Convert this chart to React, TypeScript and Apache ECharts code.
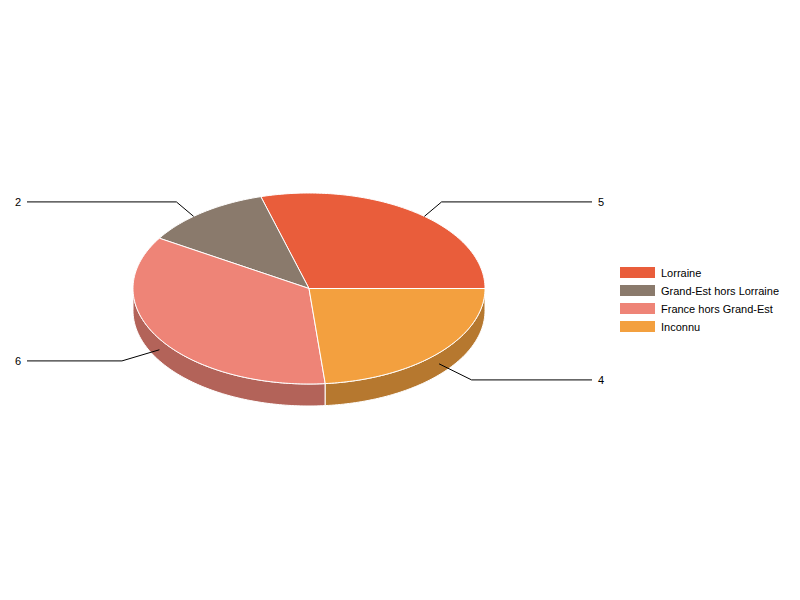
import React, { useEffect, useRef } from "react";
import * as echarts from "echarts";

const categories = ["Lorraine", "Grand-Est hors Lorraine", "France hors Grand-Est", "Inconnu"];
const values = [5, 2, 6, 4];
const colors = ["#E95D3B", "#8A7A6C", "#EE8477", "#F3A03F"];

// layout of the 3D pie
const CX = 309;
const CY = 288.5;
const RX = 176;
const RY = 95.5;
const DEPTH = 22;
const FONT = "Liberation Sans";

function darken(hex: string, k: number) {
  const n = parseInt(hex.slice(1), 16);
  const r = Math.round(((n >> 16) & 255) * k);
  const g = Math.round(((n >> 8) & 255) * k);
  const b = Math.round((n & 255) * k);
  return "rgb(" + r + "," + g + "," + b + ")";
}

function pt(t: number, dy = 0): number[] {
  return [CX + RX * Math.cos(t), CY - RY * Math.sin(t) + dy];
}

function arc(a: number, b: number, dy = 0): number[][] {
  const pts: number[][] = [];
  const n = Math.max(2, Math.ceil(((b - a) * 180) / Math.PI));
  for (let i = 0; i <= n; i++) pts.push(pt(a + ((b - a) * i) / n, dy));
  return pts;
}

const renderItem = (params: any, api: any) => {
  const start = api.value(0);
  const val = api.value(1);
  const total = api.value(2);
  const color = api.visual("color");
  const a0 = (start / total) * Math.PI * 2;
  const a1 = ((start + val) / total) * Math.PI * 2;
  const children: any[] = [];

  // front side wall
  const s = Math.max(a0, Math.PI);
  const e = Math.min(a1, Math.PI * 2);
  if (e > s) {
    const top = arc(s, e);
    const bottom = arc(s, e, DEPTH).reverse();
    children.push({
      type: "polygon",
      z2: 1,
      shape: { points: top.concat(bottom) },
      style: { fill: darken(color, 0.75), stroke: "#fff", lineWidth: 1 },
    });
  }
  // top face
  children.push({
    type: "polygon",
    z2: 10,
    shape: { points: [[CX, CY]].concat(arc(a0, a1)) },
    style: { fill: color, stroke: "#fff", lineWidth: 1 },
  });

  // label
  const mid = (a0 + a1) / 2;
  const sn = Math.sin(mid);
  const cs = Math.cos(mid);
  const lower = sn < 0;
  const anchorT = lower ? mid : Math.atan2(sn * 0.87, cs);
  const p0 = pt(anchorT, lower ? DEPTH / 2 : 0);
  const ly = lower ? CY + (RY + 33.5) * -sn + 4.5 : CY - (RY + 13) * sn;
  const bx = CX + (RX + 44) * cs;
  const right = cs >= 0;
  const ex = right ? CX + 283 : CX - 282;
  children.push({
    type: "polyline",
    z2: 20,
    shape: { points: [p0, [bx, ly], [ex, ly]] },
    style: { stroke: "#000", lineWidth: 1, fill: null },
  });
  children.push({
    type: "text",
    z2: 20,
    x: right ? ex + 6 : ex - 6,
    y: ly,
    style: {
      text: String(val),
      fill: "#000",
      fontSize: 11,
      fontFamily: FONT,
      align: right ? "left" : "right",
      verticalAlign: "middle",
    },
  });
  return { type: "group", children };
};

export default function App() {
  const ref = useRef<HTMLDivElement>(null);
  useEffect(() => {
    document.body.style.margin = "0";
    const chart = echarts.init(ref.current!, null, { renderer: "svg" });
    const total = values.reduce((a, b) => a + b, 0);
    let cum = 0;
    const series = categories.map((name, i) => {
      const item = [cum, values[i], total];
      cum += values[i];
      return {
        type: "custom",
        name,
        coordinateSystem: "none",
        itemStyle: { color: colors[i] },
        renderItem,
        data: [item],
        silent: true,
      };
    });
    chart.setOption({
      animation: false,
      backgroundColor: "#fff",
      legend: {
        data: categories,
        orient: "vertical",
        left: 620,
        top: 267,
        padding: 0,
        icon: "rect",
        itemWidth: 35,
        itemHeight: 11,
        itemGap: 7,
        selectedMode: false,
        textStyle: { fontSize: 11, fontFamily: FONT, color: "#000", padding: [0, 0, 0, 1] },
      },
      series,
    });
    return () => chart.dispose();
  }, []);
  return <div ref={ref} style={{ width: 800, height: 600 }} />;
}
